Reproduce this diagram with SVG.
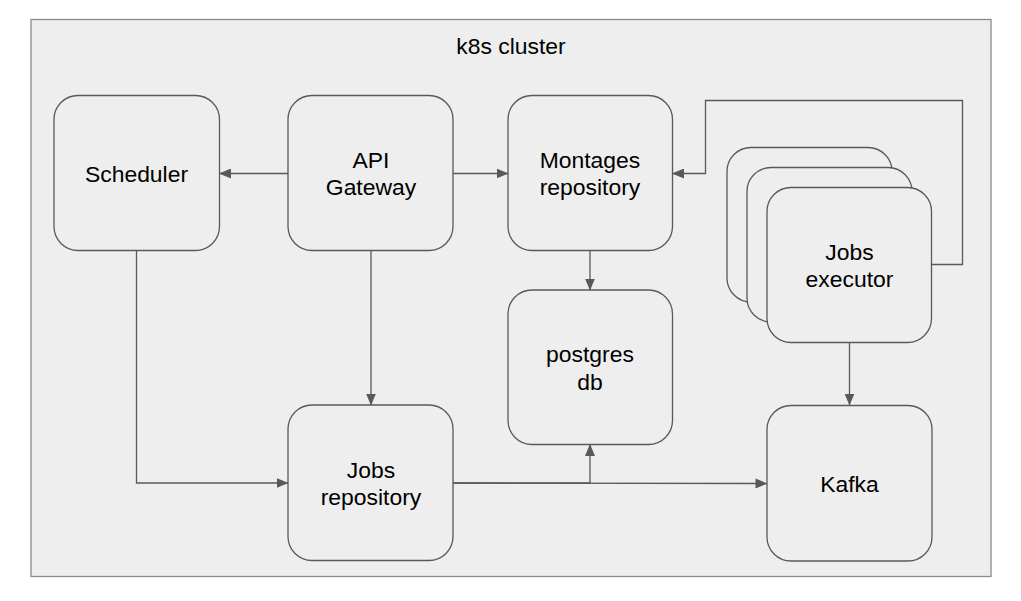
<svg xmlns="http://www.w3.org/2000/svg" width="1021" height="601" viewBox="0 0 1021 601">
<style>
.node{fill:#eeeeee;stroke:#595959;stroke-width:1.3}
.lbl{font-family:"Liberation Sans",Arial,sans-serif;font-size:22.9px;fill:#000;text-anchor:middle}
.edge{fill:none;stroke:#595959;stroke-width:1.3}
</style>
<defs>
<marker id="arr" viewBox="0 0 12 10" refX="11.5" refY="5" markerWidth="12" markerHeight="10" markerUnits="userSpaceOnUse" orient="auto">
<path d="M0,0 L12,5 L0,10 Z" fill="#595959"/>
</marker>
</defs>
<rect width="1021" height="601" fill="#ffffff"/>
<g id="cluster">
<rect x="31" y="19.5" width="960" height="557" fill="#eeeeee" stroke="#8a8a8a" stroke-width="1.3"/>
<text class="lbl" x="511" y="53.5">k8s cluster</text>
</g>
<g id="connectors">
<path class="edge" d="M288,173.5 H219.5" marker-end="url(#arr)"/>
<path class="edge" d="M453,173.5 H508" marker-end="url(#arr)"/>
<path class="edge" d="M371,250.5 V405" marker-end="url(#arr)"/>
<path class="edge" d="M590,250.5 V290" marker-end="url(#arr)"/>
<path class="edge" d="M136.5,250.5 V483 H288" marker-end="url(#arr)"/>
<path class="edge" d="M453,483 H590 V444.5" marker-end="url(#arr)"/>
<path class="edge" d="M453,483 L767,483.5" marker-end="url(#arr)"/>
<path class="edge" d="M849.5,342.5 V405" marker-end="url(#arr)"/>
<path class="edge" d="M931.5,264.5 H962.5 V100.5 H705.5 V173.5 H672.5" marker-end="url(#arr)"/>
</g>
<g id="scheduler">
<rect class="node" x="54" y="95.5" width="165.5" height="155" rx="24"/>
<text class="lbl" x="136.5" y="182">Scheduler</text>
</g>
<g id="api-gateway">
<rect class="node" x="288" y="95.5" width="165" height="155" rx="24"/>
<text class="lbl" x="371" y="167.7">API</text>
<text class="lbl" x="371" y="195.2">Gateway</text>
</g>
<g id="montages-repository">
<rect class="node" x="508" y="95.5" width="164.5" height="155" rx="24"/>
<text class="lbl" x="590" y="167.7">Montages</text>
<text class="lbl" x="590" y="195.2">repository</text>
</g>
<g id="postgres-db">
<rect class="node" x="508" y="290" width="164.5" height="154.5" rx="24"/>
<text class="lbl" x="590" y="362">postgres</text>
<text class="lbl" x="590" y="389.5">db</text>
</g>
<g id="jobs-repository">
<rect class="node" x="288" y="405" width="165" height="155.5" rx="24"/>
<text class="lbl" x="371" y="477.5">Jobs</text>
<text class="lbl" x="371" y="505">repository</text>
</g>
<g id="jobs-executor">
<rect class="node" x="727" y="147.5" width="165" height="154.5" rx="24"/>
<rect class="node" x="747" y="167.5" width="165" height="154.5" rx="24"/>
<rect class="node" x="767" y="187.5" width="164.5" height="155" rx="24"/>
<text class="lbl" x="849.5" y="259.5">Jobs</text>
<text class="lbl" x="849.5" y="287">executor</text>
</g>
<g id="kafka">
<rect class="node" x="767" y="405.5" width="165" height="155.5" rx="24"/>
<text class="lbl" x="849.5" y="491.5">Kafka</text>
</g>
</svg>
